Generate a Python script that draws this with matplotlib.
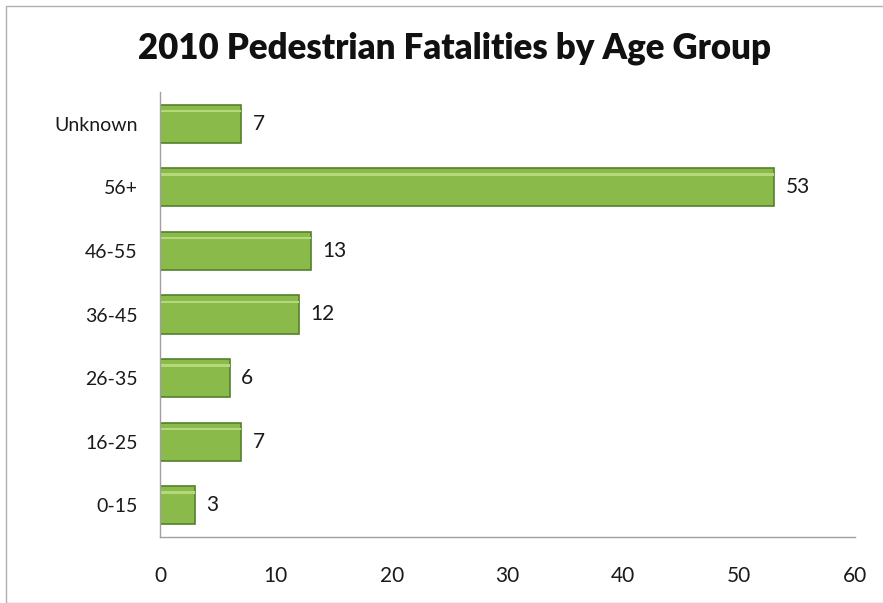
import matplotlib.pyplot as plt
from matplotlib.patches import Rectangle

# Data
age_groups = ['0-15', '16-25', '26-35', '36-45', '46-55', '56+', 'Unknown']
fatalities = [3, 7, 6, 12, 13, 53, 7]
x_ticks = [0, 10, 20, 30, 40, 50, 60]

plt.rcParams['font.family'] = ['Lato', 'DejaVu Sans']

fig = plt.figure(figsize=(8.83, 6.03), dpi=100)
ax = fig.add_axes([160 / 883, 1 - 537 / 603, 695 / 883, 445 / 603])

ypos = range(len(age_groups))
ax.barh(ypos, fatalities, height=0.6, color='#8abb4a',
        edgecolor='#55802c', linewidth=1.2)
# soft highlight along the top of each bar
ax.barh([y + 0.2 for y in ypos], fatalities, height=0.04,
        color='#b5d87a', linewidth=0)

for y, v in zip(ypos, fatalities):
    ax.text(v + 1.0, y, str(v), va='center', ha='left', fontsize=15,
            color='#1a1a1a')

ax.set_xlim(0, 60)
ax.set_ylim(-0.5, len(age_groups) - 0.5)
ax.set_xticks(x_ticks)
ax.set_yticks(list(ypos))
ax.set_yticklabels(age_groups)
ax.tick_params(axis='both', length=0, labelsize=14, colors='#1a1a1a')
ax.tick_params(axis='x', pad=21, labelsize=15)
ax.tick_params(axis='y', pad=16)

for side in ['top', 'right']:
    ax.spines[side].set_visible(False)
for side in ['left', 'bottom']:
    ax.spines[side].set_color('#a0a0a0')
    ax.spines[side].set_linewidth(1.0)

fig.text(455 / 883, 1 - 48 / 603, '2010 Pedestrian Fatalities by Age Group',
         ha='center', va='center', fontsize=25, fontweight='heavy',
         color='#111111')

# thin frame around the chart area
fig.patches.append(Rectangle((6 / 883, 0.0), 1.0, 1 - 6 / 603,
                             transform=fig.transFigure, fill=False,
                             edgecolor='#b0b0b0', linewidth=1.0))

fig.savefig('out.png', dpi=100)
